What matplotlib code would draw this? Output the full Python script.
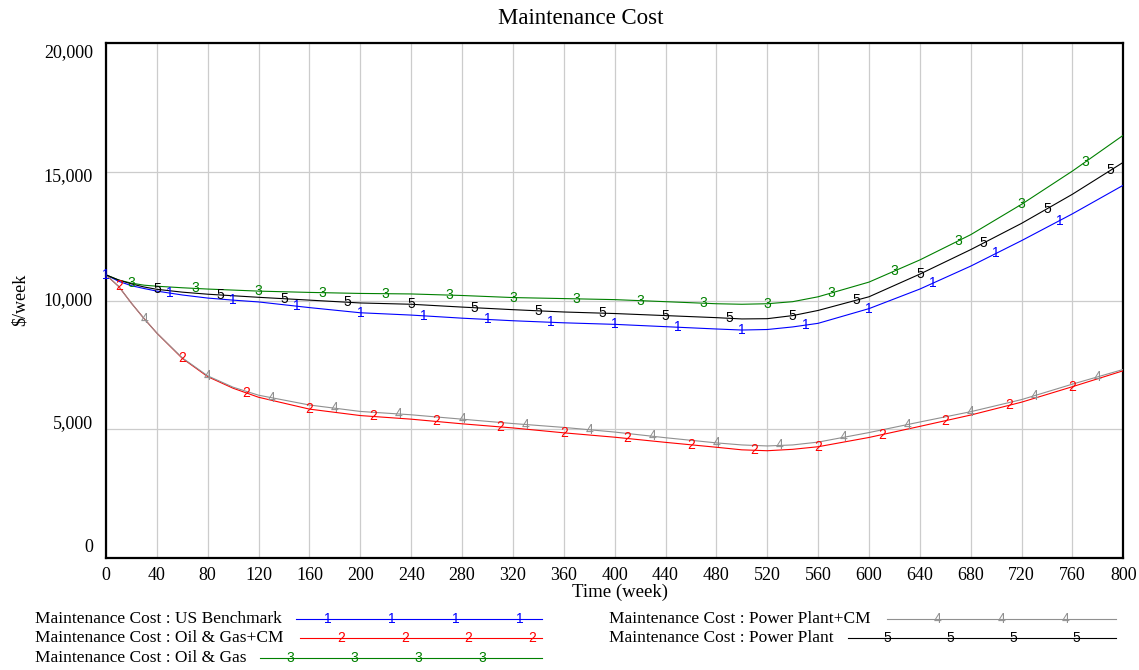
import numpy as np
import matplotlib
matplotlib.use("Agg")
import matplotlib.pyplot as plt

# time axis (week) and series values ($/week)
t = [0, 10, 20, 30, 40, 60, 80, 100, 120, 160, 200, 240, 280, 320, 360, 400,
     440, 480, 500, 520, 540, 560, 600, 640, 680, 720, 760, 800]

us_benchmark = [11000, 10750, 10580, 10470, 10370, 10220, 10100, 10020, 9950, 9730,
                9530, 9440, 9320, 9220, 9140, 9080, 8990, 8900, 8860, 8880,
                8980, 9120, 9690, 10450, 11340, 12330, 13370, 14480]
oil_gas_cm = [11000, 10550, 9900, 9300, 8740, 7760, 7050, 6600, 6250, 5790,
              5540, 5400, 5220, 5060, 4870, 4700, 4500, 4310, 4210, 4175,
              4230, 4330, 4690, 5120, 5560, 6060, 6660, 7280]
oil_gas = [11000, 10800, 10680, 10600, 10560, 10500, 10450, 10410, 10370, 10320,
           10280, 10260, 10200, 10120, 10080, 10040, 9960, 9880, 9860, 9880,
           9960, 10150, 10720, 11580, 12560, 13740, 15030, 16420]
power_plant_cm = [11000, 10550, 9900, 9300, 8740, 7780, 7080, 6640, 6330, 5950,
                  5700, 5570, 5400, 5230, 5080, 4900, 4680, 4480, 4400, 4360,
                  4400, 4510, 4880, 5290, 5690, 6160, 6760, 7330]
power_plant = [11000, 10800, 10650, 10530, 10440, 10330, 10250, 10190, 10130, 10020,
               9910, 9860, 9750, 9650, 9560, 9500, 9420, 9340, 9290, 9300,
               9420, 9620, 10150, 11030, 11980, 13000, 14130, 15370]

names = ["US Benchmark", "Oil & Gas+CM", "Oil & Gas", "Power Plant+CM", "Power Plant"]
series = [us_benchmark, oil_gas_cm, oil_gas, power_plant_cm, power_plant]
colors = ["#0000ff", "#ff0000", "#008000", "#909090", "#000000"]
offsets = [0, 10, 20, 30, 40]   # where the number labels start on each line

x_ticks = list(range(0, 801, 40))
y_ticks = [0, 5000, 10000, 15000, 20000]
y_tick_labels = ["0", "5,000", "10,000", "15,000", "20,000"]

serif = "Liberation Serif"
sans = "Liberation Sans"

fig = plt.figure(figsize=(11.39, 6.70), dpi=100)
ax = fig.add_axes([106 / 1139, 1 - 558.3 / 670, (1123.3 - 106) / 1139, (558.3 - 43) / 670])

for i, (vals, c) in enumerate(zip(series, colors)):
    ax.plot(t, vals, color=c, lw=0.8, zorder=3)
    marks = np.arange(offsets[i], 800, 50)
    for m in marks:
        ax.text(m, np.interp(m, t, vals), str(i + 1), color=c, fontsize=10,
                family=sans, ha="center", va="center", zorder=4)

ax.set_xlim(0, 800)
ax.set_ylim(0, 20000)
ax.set_xticks(x_ticks)
ax.set_xticklabels([str(v) for v in x_ticks], family=serif, fontsize=13)
ax.set_yticks(y_ticks)
ax.set_yticklabels([])
# Vensim spreads the y labels slightly inside the axis range
for v, lab in zip(y_ticks, y_tick_labels):
    ax.text(-0.013, 400 + v * 0.962, lab, transform=ax.get_yaxis_transform(),
            ha="right", va="center", family=serif, fontsize=13)
ax.tick_params(length=0, pad=6)
ax.grid(True, color="#cccccc", lw=0.9)
ax.set_axisbelow(True)
for s in ax.spines.values():
    s.set_linewidth(1.6)
    s.set_color("black")

fig.text(581 / 1139, 1 - 18 / 670, "Maintenance Cost", ha="center", va="center",
         family=serif, fontsize=16.5)
fig.text(620 / 1139, 1 - 592 / 670, "Time (week)", ha="center", va="center",
         family=serif, fontsize=13.5)
fig.text(20 / 1139, 1 - 300 / 670, "$/week", ha="center", va="center",
         rotation=90, family=serif, fontsize=13)

# legend drawn in pixel coordinates
lg = fig.add_axes([0, 0, 1, 1], facecolor="none")
lg.set_xlim(0, 1139)
lg.set_ylim(670, 0)
lg.axis("off")
legend_rows = [
    (35, 619, 296, 542, [328, 392, 456, 520]),
    (35, 638, 300, 542, [341, 405, 468, 532]),
    (35, 658, 260, 542, [290, 354, 418, 482]),
    (609, 619, 887, 1116, [937, 1001, 1065]),
    (609, 638, 848, 1116, [887, 950, 1013, 1076]),
]
for i, (tx, ty, x0, x1, digs) in enumerate(legend_rows):
    lg.text(tx, ty, "Maintenance Cost : " + names[i], ha="left", va="center",
            family=serif, fontsize=12.5)
    lg.plot([x0, x1], [ty, ty], color=colors[i], lw=0.8)
    for d in digs:
        lg.text(d, ty, str(i + 1), color=colors[i], fontsize=10, family=sans,
                ha="center", va="center")

fig.savefig("out.png", dpi=100)
